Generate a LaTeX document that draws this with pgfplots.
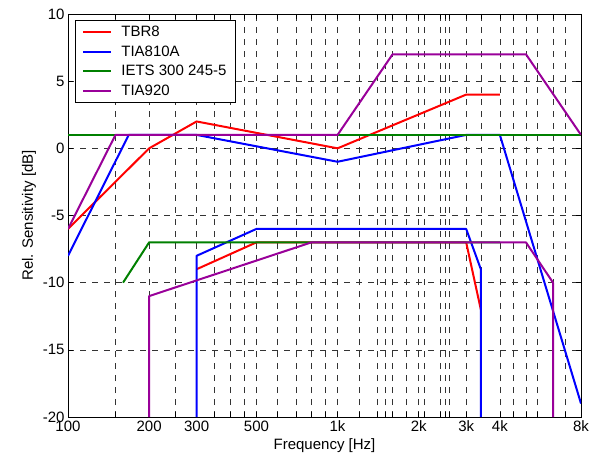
\documentclass[border=0pt]{standalone}
\usepackage{fontspec}
\setmainfont{Liberation Sans}
\usepackage{pgfplots}
\pgfplotsset{compat=1.18}
\definecolor{mpurple}{RGB}{153,0,153}
\definecolor{mgreen}{RGB}{0,128,0}
\newcommand{\fs}{\fontsize{15}{18}\selectfont}

\begin{document}
\begin{tikzpicture}
\begin{axis}[
  name=ax,
  scale only axis, width=513pt, height=403pt,
  xmode=log, xmin=100, xmax=8000, ymin=-20, ymax=10,
  xtick={100,150,200,250,300,350,400,450,500,600,700,800,900,1000,1200,1400,1500,1600,1800,2000,2100,2400,2500,2600,3000,3400,4000,4500,5000,5500,6300,7000,8000},
  xticklabels={100,,200,,300,,,,500,,,,,1k,,,,,,2k,,,,,3k,,4k,,,,,,8k},
  minor xtick={},
  ytick={-20,-15,-10,-5,0,5,10},
  yticklabels={-20,-15,-10,-5,0,5,10},
  tick align=inside, major tick length=5pt,
  tick style={black, line width=0.6pt},
  ticklabel style={font=\fs},
  grid=major,
  major grid style={black!80, dash pattern=on 6pt off 6pt, line width=0.6pt},
  axis line style={black, line width=0.8pt},
  xlabel={Frequency [Hz]}, ylabel={Rel. Sensitivity [dB]},
  label style={font=\fs},
  every axis plot/.append style={line width=2pt, line join=round},
  legend style={at={(0.0136,0.985)}, anchor=north west, draw=black, line width=0.8pt,
    font=\fs, inner xsep=7pt, inner ysep=3pt, row sep=2.6pt,
    nodes={inner sep=2pt, text height=11pt, text depth=2pt}},
  legend cell align=left,
  legend image code/.code={\draw[#1] (0pt,0pt) -- (28pt,0pt); \path (35pt,0pt);},
]
% TBR8
\addplot[red] coordinates {(100,-6) (200,0) (300,2) (1000,0) (3000,4) (4000,4)};
\addplot[red, forget plot] coordinates {(300,-9) (500,-7) (3000,-7) (3400,-12)};
% TIA810A
\addplot[blue] coordinates {(100,-8) (168,1) (300,1) (1000,-1) (3000,1) (4000,1) (8000,-19)};
\addplot[blue, forget plot] coordinates {(300,-20) (300,-8) (500,-6) (3000,-6) (3400,-9) (3400,-20)};
% IETS 300 245-5
\addplot[mgreen] coordinates {(100,1) (8000,1)};
\addplot[mgreen, forget plot] coordinates {(160,-10) (200,-7) (4000,-7)};
% TIA920
\addplot[mpurple] coordinates {(100,-6) (150,1) (1000,1) (1600,7) (5000,7) (8000,1)};
\addplot[mpurple, forget plot] coordinates {(200,-20) (200,-11) (800,-7) (5000,-7) (6300,-10) (6300,-20)};
\legend{TBR8, TIA810A, IETS 300 245-5, TIA920}
\end{axis}
\pgfresetboundingbox
\path[use as bounding box] ([xshift=-68pt,yshift=-40pt]ax.south west) rectangle ([xshift=16pt,yshift=14pt]ax.north east);
\end{tikzpicture}
\end{document}
